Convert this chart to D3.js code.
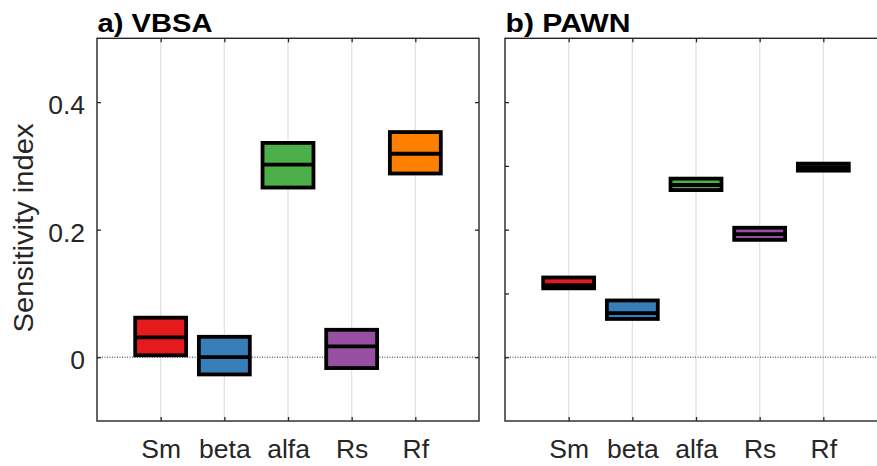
<!DOCTYPE html>
<html>
<head>
<meta charset="utf-8">
<script src="https://cdn.jsdelivr.net/npm/d3@7"></script>
<style>
  html, body { margin: 0; padding: 0; background: #fff; }
  svg { display: block; font-family: "Liberation Sans", Arial, Helvetica, sans-serif; }
</style>
</head>
<body>
<svg id="chart" width="877" height="466"></svg>
<script>
// ---- data ----
const categories = ["Sm", "beta", "alfa", "Rs", "Rf"];
const boxColors = ["#e41a1c", "#377eb8", "#4daf4a", "#984ea3", "#ff7f00"];

const vbsaLow  = [0.003, -0.027, 0.266, -0.017, 0.288];
const vbsaMed  = [0.031,  0.000, 0.302,  0.017, 0.319];
const vbsaHigh = [0.062,  0.032, 0.336,  0.043, 0.353];

const pawnLow  = [0.108, 0.060, 0.262, 0.184, 0.2925];
const pawnMed  = [0.113, 0.069, 0.270, 0.193, 0.298];
const pawnHigh = [0.125, 0.089, 0.280, 0.203, 0.3035];

const yTicksA = [0, 0.2, 0.4];
const yTickLabelsA = ["0", "0.2", "0.4"];
const yTicksB = [0, 0.1, 0.2, 0.3, 0.4];

const titles = ["a) VBSA", "b) PAWN"];
const yLabel = "Sensitivity index";

// ---- layout ----
const svg = d3.select("#chart");
const plotTop = 38.3, plotBottom = 421;
const y = d3.scaleLinear().domain([-0.1, 0.5]).range([plotBottom, plotTop]);
const xPos = d3.range(1, categories.length + 1);

const panels = [
  { left: 97,  right: 479, low: vbsaLow, med: vbsaMed, high: vbsaHigh, yticks: yTicksA, ylabels: yTickLabelsA, title: titles[0], titleW: 115 },
  { left: 505, right: 887, low: pawnLow, med: pawnMed, high: pawnHigh, yticks: yTicksB, ylabels: null, title: titles[1], titleW: 125 }
];

const axisColor = "#262626";
const fontSize = 26.5;

panels.forEach((p, pi) => {
  const x = d3.scaleLinear().domain([0, 6]).range([p.left, p.right]);
  const g = svg.append("g");

  // grid lines
  g.selectAll("line.grid").data(xPos).join("line")
    .attr("class", "grid")
    .attr("x1", d => x(d)).attr("x2", d => x(d))
    .attr("y1", plotTop).attr("y2", plotBottom)
    .attr("stroke", "#e2e2e2").attr("stroke-width", 1.3);

  // zero dotted line
  g.append("line")
    .attr("x1", p.left).attr("x2", p.right)
    .attr("y1", y(0)).attr("y2", y(0))
    .attr("stroke", "#333").attr("stroke-width", 1)
    .attr("stroke-dasharray", "1,1.5");

  // boxes
  const hw = 0.4;
  const data = categories.map((c, i) => ({ c, i, lo: p.low[i], md: p.med[i], hi: p.high[i] }));
  const bx = g.selectAll("g.box").data(data).join("g").attr("class", "box");
  bx.append("rect")
    .attr("x", d => x(d.i + 1 - hw))
    .attr("width", d => x(d.i + 1 + hw) - x(d.i + 1 - hw))
    .attr("y", d => y(d.hi))
    .attr("height", d => y(d.lo) - y(d.hi))
    .attr("fill", d => boxColors[d.i])
    .attr("stroke", "#000").attr("stroke-width", 3.8);
  bx.append("line")
    .attr("x1", d => x(d.i + 1 - hw)).attr("x2", d => x(d.i + 1 + hw))
    .attr("y1", d => y(d.md)).attr("y2", d => y(d.md))
    .attr("stroke", "#000").attr("stroke-width", 3.8);

  // axes
  const bAxis = d3.axisBottom(x).tickValues(xPos)
    .tickFormat((d, i) => categories[i]).tickSize(-4).tickPadding(18.5);
  const gb = g.append("g").attr("transform", `translate(0,${plotBottom})`).call(bAxis);
  const tAxis = d3.axisTop(x).tickValues(xPos).tickFormat("").tickSize(-4);
  const gt = g.append("g").attr("transform", `translate(0,${plotTop})`).call(tAxis);

  const lAxis = d3.axisLeft(y).tickValues(p.yticks)
    .tickFormat((d, i) => p.ylabels ? p.ylabels[i] : "").tickSize(-4).tickPadding(12);
  const gl = g.append("g").attr("transform", `translate(${p.left},0)`).call(lAxis);
  const rAxis = d3.axisRight(y).tickValues(p.yticks).tickFormat("").tickSize(-4);
  const gr = g.append("g").attr("transform", `translate(${p.right},0)`).call(rAxis);

  [gb, gt, gl, gr].forEach(a => {
    a.select(".domain").remove();
    a.selectAll(".tick line").attr("stroke", axisColor).attr("stroke-width", 1.3);
    a.selectAll("text").attr("fill", axisColor).attr("font-size", fontSize)
      .attr("font-family", "'Liberation Sans', Arial, sans-serif");
  });
  gl.selectAll("text").attr("dy", "0.43em");

  // frame
  g.append("rect")
    .attr("x", p.left).attr("y", plotTop)
    .attr("width", p.right - p.left).attr("height", plotBottom - plotTop)
    .attr("fill", "none").attr("stroke", axisColor).attr("stroke-width", 1.4);

  // title
  g.append("text")
    .attr("x", p.left + 0.5).attr("y", 31.5)
    .attr("font-size", 25.5).attr("font-weight", "bold").attr("fill", "#000")
    .attr("textLength", p.titleW).attr("lengthAdjust", "spacingAndGlyphs")
    .text(p.title);
});

// y label
svg.append("text")
  .attr("transform", "translate(33,228) rotate(-90)")
  .attr("text-anchor", "middle")
  .attr("font-size", 27.5).attr("fill", axisColor)
  .attr("textLength", 209).attr("lengthAdjust", "spacingAndGlyphs")
  .text(yLabel);
</script>
</body>
</html>
